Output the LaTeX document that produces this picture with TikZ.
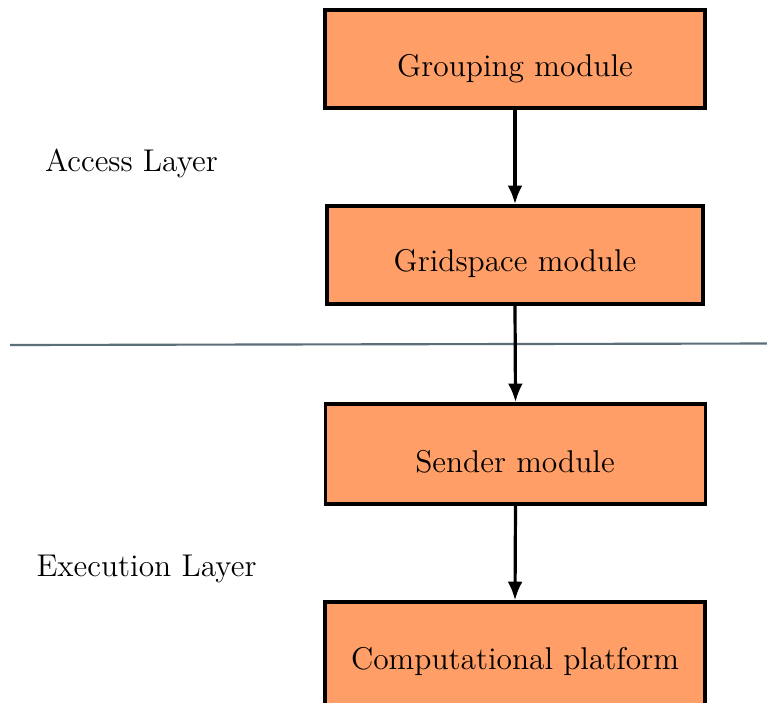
\documentclass[tikz,border=0pt]{standalone}
\usetikzlibrary{arrows.meta}
\definecolor{modfill}{HTML}{FF9E66}
\definecolor{divider}{HTML}{5B6F7A}
\tikzset{
  module/.style={draw=black, line width=1.35pt, fill=modfill, rectangle,
    minimum width=142.5pt, minimum height=36.75pt, inner sep=0pt},
  lbl/.style={font=\fontsize{11.8}{14}\selectfont, anchor=base, inner sep=0pt},
  flow/.style={line width=1.2pt, -{Latex[length=7pt,width=5.6pt]}},
}
\begin{document}
\begin{tikzpicture}[x=0.375pt,y=-0.375pt]
\useasboundingbox (0,0) rectangle (767,702);
\begin{scope}
\clip (0,0) rectangle (767,702);
% module boxes
\node[module] (grp) at (515,59) {};
\node[module, minimum width=141pt] (grid) at (515,255) {};
\node[module, minimum height=37.5pt] (send) at (515.5,454) {};
\node[module, minimum height=40pt] (comp) at (515,655.5) {};
\end{scope}
% box captions
\node[lbl] (grpT) at (515,76) {Grouping module};
\node[lbl] (gridT) at (515,271) {Gridspace module};
\node[lbl] (sendT) at (515,472) {Sender module};
\node[lbl] (compT) at (515,669) {Computational platform};
% layer names
\node[lbl] (access) at (131.5,171) {Access Layer};
\node[lbl] (exec) at (146.5,576) {Execution Layer};
% layer divider
\coordinate (divL) at (10,345);
\coordinate (divR) at (767,343.5);
\draw[divider, line width=0.8pt] (divL) -- (divR);
% data flow
\draw[flow] (grp.south) -- (grid.north);
\draw[flow] (grid.south) -- (send.north);
\draw[flow] (send.south) -- (comp.north);
\end{tikzpicture}
\end{document}
